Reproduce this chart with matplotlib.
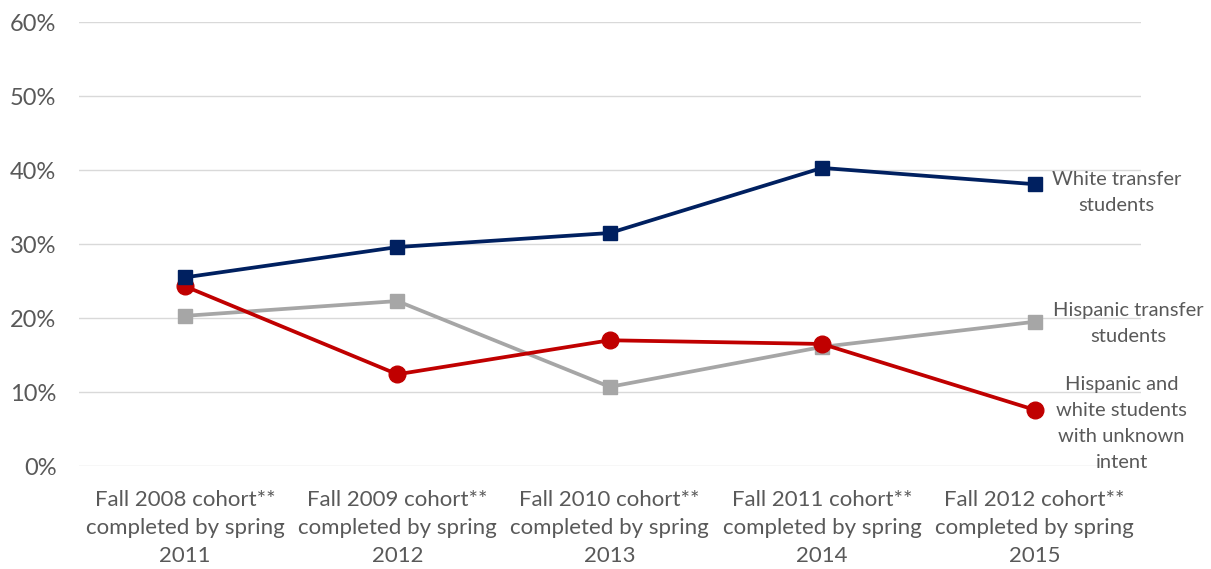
import matplotlib
matplotlib.use('Agg')
import matplotlib.pyplot as plt
from matplotlib.ticker import FuncFormatter

plt.rcParams['font.family'] = ['Lato', 'DejaVu Sans']

# 数据
categories = ["Fall 2008 cohort**\ncompleted by spring\n2011",
              "Fall 2009 cohort**\ncompleted by spring\n2012",
              "Fall 2010 cohort**\ncompleted by spring\n2013",
              "Fall 2011 cohort**\ncompleted by spring\n2014",
              "Fall 2012 cohort**\ncompleted by spring\n2015"]
white_transfer = [25.5, 29.6, 31.5, 40.3, 38.1]
hispanic_transfer = [20.3, 22.3, 10.7, 16.1, 19.5]
unknown_intent = [24.3, 12.4, 17.0, 16.5, 7.6]
series_labels = ["White transfer\nstudents", "Hispanic transfer\nstudents",
                 "Hispanic and\nwhite students\nwith unknown\nintent"]

text_color = '#595959'

fig = plt.figure(figsize=(12.11, 5.69), dpi=100)
ax = fig.add_axes([0.065, 0.181, 0.877, 0.78])

x = range(len(categories))
ax.plot(x, white_transfer, color='#002060', lw=2.7, marker='s', ms=10, zorder=3)
ax.plot(x, hispanic_transfer, color='#A6A6A6', lw=2.7, marker='s', ms=10, zorder=2)
ax.plot(x, unknown_intent, color='#C00000', lw=2.7, marker='o', ms=12, zorder=2)

ax.set_xlim(-0.5, len(categories) - 0.5)
ax.set_ylim(0, 60)
ax.set_yticks(range(0, 61, 10))
ax.yaxis.set_major_formatter(FuncFormatter(lambda v, p: '%d%%' % v))
ax.set_xticks(list(x))
ax.set_xticklabels(categories, fontsize=16, color=text_color, linespacing=1.5)
ax.tick_params(axis='y', labelsize=17, colors=text_color, length=0, pad=16)
ax.tick_params(axis='x', length=0, pad=17)
ax.grid(axis='y', color='#D9D9D9', lw=1)
ax.set_axisbelow(True)
for s in ax.spines.values():
    s.set_visible(False)

# 右侧标注
ax.text(4.386, 37.0, series_labels[0], color=text_color, fontsize=14.5,
        ha='center', va='center', linespacing=1.65, clip_on=False)
ax.text(4.44, 19.3, series_labels[1], color=text_color, fontsize=14.5,
        ha='center', va='center', linespacing=1.65, clip_on=False)
ax.text(4.41, 5.7, series_labels[2], color=text_color, fontsize=14.5,
        ha='center', va='center', linespacing=1.65, clip_on=False)

fig.savefig('out.png', dpi=100)
